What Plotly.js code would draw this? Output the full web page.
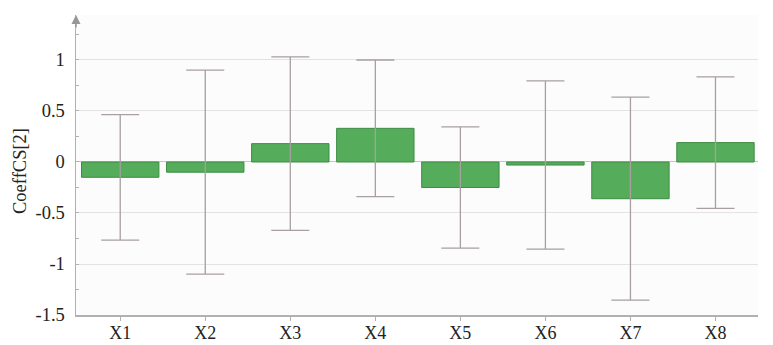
<!DOCTYPE html>
<html>
<head>
<meta charset="utf-8">
<script src="https://cdn.plot.ly/plotly-3.0.1.min.js"></script>
<style>
  html, body { margin: 0; padding: 0; background: #ffffff; }
  #chart { width: 773px; height: 345px; }
</style>
</head>
<body>
<div id="chart"></div>
<script>
// Coefficients for CS[2] with their confidence intervals
const terms = ['X1', 'X2', 'X3', 'X4', 'X5', 'X6', 'X7', 'X8'];
const coeffs = [-0.15, -0.10, 0.18, 0.33, -0.25, -0.03, -0.36, 0.19];
const confInt = [0.615, 1.0, 0.85, 0.67, 0.595, 0.825, 0.995, 0.645];
const yTickVals = [-1.5, -1, -0.5, 0, 0.5, 1];
const yTickText = ['-1.5', '-1', '-0.5', '0', '0.5', '1'];
const yTitle = 'CoeffCS[2]';

const serif = '"Liberation Serif", "Times New Roman", serif';
const textColor = '#222222';
const fontSize = 18.5;

const trace = {
  type: 'bar',
  x: terms,
  y: coeffs,
  marker: { color: '#55ad5b', line: { color: '#3d8c44', width: 1 } },
  error_y: {
    type: 'data',
    array: confInt,
    visible: true,
    color: '#a89f9f',
    thickness: 1.3,
    width: 19
  },
  hoverinfo: 'x+y'
};

const layout = {
  width: 773,
  height: 345,
  margin: { l: 76, r: 15, t: 15, b: 30 },
  paper_bgcolor: '#ffffff',
  plot_bgcolor: '#fcfcfc',
  bargap: 0.09,
  showlegend: false,
  font: { family: serif, size: fontSize, color: textColor },
  xaxis: {
    range: [-0.52, 7.5],
    showgrid: false,
    zeroline: false,
    showline: true,
    linecolor: '#b4b0b0',
    linewidth: 1.5,
    ticks: 'outside',
    ticklen: 4,
    tickcolor: '#b4b0b0',
    ticklabelstandoff: -3,
    tickfont: { family: serif, size: 18, color: textColor }
  },
  yaxis: {
    range: [-1.5, 1.441],
    tickvals: yTickVals,
    ticktext: yTickText,
    showgrid: true,
    gridcolor: '#e4e2e2',
    gridwidth: 1,
    zeroline: true,
    zerolinecolor: '#c8c4c4',
    zerolinewidth: 1,
    showline: true,
    linecolor: '#b4b0b0',
    linewidth: 1.5,
    ticks: '',
    ticklabelstandoff: 6,
    minor: { dtick: 0.25, ticks: 'inside', ticklen: 3, tickcolor: '#b4b0b0', showgrid: false },
    tickfont: { family: serif, size: fontSize, color: textColor }
  },
  annotations: [
    {
      // arrow head at the top of the value axis
      xref: 'paper', yref: 'paper', x: 0, y: 1,
      ax: 0, ay: 14, text: '',
      showarrow: true, arrowhead: 2, arrowsize: 1.2, arrowwidth: 1.5, arrowcolor: '#9a9696'
    },
    {
      // value axis title
      xref: 'paper', yref: 'paper', x: 0, y: 0.48,
      xanchor: 'center', yanchor: 'middle', xshift: -56,
      text: yTitle, textangle: -90, showarrow: false,
      font: { family: serif, size: fontSize, color: textColor }
    }
  ]
};

Plotly.newPlot('chart', [trace], layout, { displayModeBar: false, staticPlot: true });
</script>
</body>
</html>
